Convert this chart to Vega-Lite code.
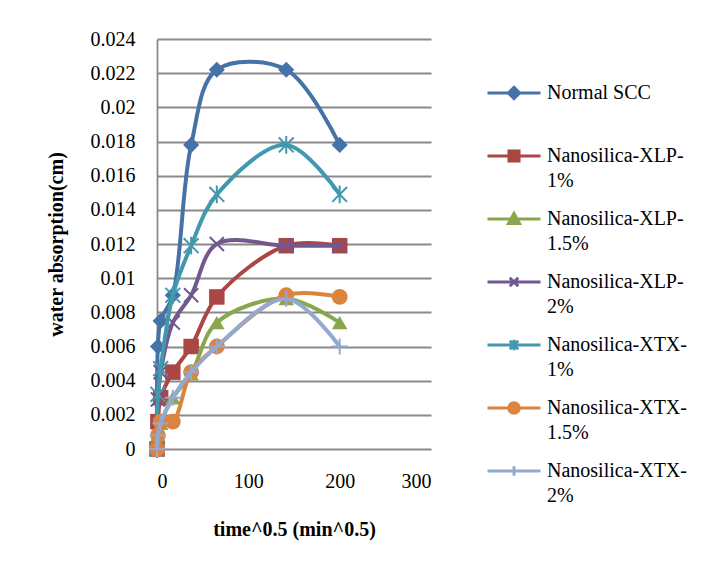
{
  "$schema": "https://vega.github.io/schema/vega-lite/v6.json",
  "autosize": {"type": "none"},
  "padding": {"left": 157, "top": 39, "right": 281, "bottom": 120},
  "width": 274,
  "height": 410,
  "background": "white",
  "config": {
    "view": {"stroke": null},
    "font": "Liberation Serif",
    "style": {"guide-label": {"lineHeight": 25, "font": "Liberation Serif"}},
    "legend": {"labelFont": "Liberation Serif", "labelFontSize": 20, "labelColor": "black"}
  },
  "data": {
    "values": [
      {"series": "Normal SCC", "x": 0, "y": 0},
      {"series": "Normal SCC", "x": 1, "y": 0.006},
      {"series": "Normal SCC", "x": 4, "y": 0.0075},
      {"series": "Normal SCC", "x": 17.3, "y": 0.009},
      {"series": "Normal SCC", "x": 37.4, "y": 0.0178},
      {"series": "Normal SCC", "x": 65.5, "y": 0.0222},
      {"series": "Normal SCC", "x": 141.5, "y": 0.0222},
      {"series": "Normal SCC", "x": 200, "y": 0.0178},
      {"series": "Nanosilica-XLP-1%", "x": 0, "y": 0},
      {"series": "Nanosilica-XLP-1%", "x": 1, "y": 0.0016},
      {"series": "Nanosilica-XLP-1%", "x": 4, "y": 0.003},
      {"series": "Nanosilica-XLP-1%", "x": 17.3, "y": 0.0045},
      {"series": "Nanosilica-XLP-1%", "x": 37.4, "y": 0.006},
      {"series": "Nanosilica-XLP-1%", "x": 65.5, "y": 0.0089},
      {"series": "Nanosilica-XLP-1%", "x": 141.5, "y": 0.0119},
      {"series": "Nanosilica-XLP-1%", "x": 200, "y": 0.0119},
      {"series": "Nanosilica-XLP-1.5%", "x": 0, "y": 0},
      {"series": "Nanosilica-XLP-1.5%", "x": 1, "y": 0.0008},
      {"series": "Nanosilica-XLP-1.5%", "x": 4, "y": 0.0015},
      {"series": "Nanosilica-XLP-1.5%", "x": 17.3, "y": 0.003},
      {"series": "Nanosilica-XLP-1.5%", "x": 37.4, "y": 0.0044},
      {"series": "Nanosilica-XLP-1.5%", "x": 65.5, "y": 0.0074},
      {"series": "Nanosilica-XLP-1.5%", "x": 141.5, "y": 0.0088},
      {"series": "Nanosilica-XLP-1.5%", "x": 200, "y": 0.0074},
      {"series": "Nanosilica-XLP-2%", "x": 0, "y": 0},
      {"series": "Nanosilica-XLP-2%", "x": 1, "y": 0.0029},
      {"series": "Nanosilica-XLP-2%", "x": 4, "y": 0.0045},
      {"series": "Nanosilica-XLP-2%", "x": 17.3, "y": 0.0074},
      {"series": "Nanosilica-XLP-2%", "x": 37.4, "y": 0.009},
      {"series": "Nanosilica-XLP-2%", "x": 65.5, "y": 0.012},
      {"series": "Nanosilica-XLP-2%", "x": 141.5, "y": 0.0119},
      {"series": "Nanosilica-XLP-2%", "x": 200, "y": 0.0119},
      {"series": "Nanosilica-XTX-1%", "x": 0, "y": 0},
      {"series": "Nanosilica-XTX-1%", "x": 1, "y": 0.0032},
      {"series": "Nanosilica-XTX-1%", "x": 4, "y": 0.0047},
      {"series": "Nanosilica-XTX-1%", "x": 17.3, "y": 0.009},
      {"series": "Nanosilica-XTX-1%", "x": 37.4, "y": 0.0119},
      {"series": "Nanosilica-XTX-1%", "x": 65.5, "y": 0.0149},
      {"series": "Nanosilica-XTX-1%", "x": 141.5, "y": 0.0178},
      {"series": "Nanosilica-XTX-1%", "x": 200, "y": 0.0149},
      {"series": "Nanosilica-XTX-1.5%", "x": 0, "y": 0},
      {"series": "Nanosilica-XTX-1.5%", "x": 1, "y": 0.0008},
      {"series": "Nanosilica-XTX-1.5%", "x": 4, "y": 0.0016},
      {"series": "Nanosilica-XTX-1.5%", "x": 17.3, "y": 0.0016},
      {"series": "Nanosilica-XTX-1.5%", "x": 37.4, "y": 0.0045},
      {"series": "Nanosilica-XTX-1.5%", "x": 65.5, "y": 0.006},
      {"series": "Nanosilica-XTX-1.5%", "x": 141.5, "y": 0.009},
      {"series": "Nanosilica-XTX-1.5%", "x": 200, "y": 0.0089},
      {"series": "Nanosilica-XTX-2%", "x": 0, "y": 0},
      {"series": "Nanosilica-XTX-2%", "x": 1, "y": 0.0008},
      {"series": "Nanosilica-XTX-2%", "x": 4, "y": 0.0015},
      {"series": "Nanosilica-XTX-2%", "x": 17.3, "y": 0.003},
      {"series": "Nanosilica-XTX-2%", "x": 37.4, "y": 0.0045},
      {"series": "Nanosilica-XTX-2%", "x": 65.5, "y": 0.006},
      {"series": "Nanosilica-XTX-2%", "x": 141.5, "y": 0.0088},
      {"series": "Nanosilica-XTX-2%", "x": 200, "y": 0.006}
    ]
  },
  "encoding": {
    "x": {
      "field": "x", "type": "quantitative",
      "scale": {"domain": [0, 300], "nice": false, "zero": true},
      "axis": {
        "title": "time^0.5 (min^0.5)",
        "values": [0, 100, 200, 300],
        "grid": false, "domain": false, "ticks": false,
        "labelPadding": 22, "labelFontSize": 20, "labelFont": "Liberation Serif", "labelColor": "black",
        "titleFont": "Liberation Serif", "titleFontSize": 20, "titleFontWeight": "bold", "titleColor": "black",
        "titlePadding": 28
      }
    },
    "y": {
      "field": "y", "type": "quantitative",
      "scale": {"domain": [0, 0.024], "nice": false},
      "axis": {
        "title": "water absorption(cm)",
        "values": [0, 0.002, 0.004, 0.006, 0.008, 0.01, 0.012, 0.014, 0.016, 0.018, 0.02, 0.022, 0.024],
        "format": "~g",
        "grid": true, "gridColor": "#898989", "gridWidth": 1.8,
        "domain": true, "domainColor": "#898989", "domainWidth": 1.8,
        "ticks": false,
        "labelPadding": 22, "labelFontSize": 20, "labelFont": "Liberation Serif", "labelColor": "black",
        "titleFont": "Liberation Serif", "titleFontSize": 20, "titleFontWeight": "bold", "titleColor": "black",
        "titlePadding": 24
      }
    }
  },
  "layer": [
    {
      "transform": [{"filter": "datum.series === 'Normal SCC'"}],
      "mark": {"type": "line", "interpolate": "catmull-rom", "strokeWidth": 4, "color": "#4572A7",
        "point": {"shape": "diamond", "filled": true, "size": 260, "opacity": 1, "color": "#4572A7"}}
    },
    {
      "transform": [{"filter": "datum.series === 'Nanosilica-XLP-1%'"}],
      "mark": {"type": "line", "interpolate": "catmull-rom", "strokeWidth": 4, "color": "#AA4643",
        "point": {"shape": "square", "filled": true, "size": 240, "opacity": 1, "color": "#AA4643"}}
    },
    {
      "transform": [{"filter": "datum.series === 'Nanosilica-XLP-1.5%'"}],
      "mark": {"type": "line", "interpolate": "catmull-rom", "strokeWidth": 4, "color": "#89A54E",
        "point": {"shape": "triangle-up", "filled": true, "size": 240, "opacity": 1, "color": "#89A54E"}}
    },
    {
      "transform": [{"filter": "datum.series === 'Nanosilica-XLP-2%'"}],
      "mark": {"type": "line", "interpolate": "catmull-rom", "strokeWidth": 4, "color": "#71588F",
        "point": {"shape": "M-1,-1L1,1M-1,1L1,-1", "filled": false, "size": 200, "strokeWidth": 2, "opacity": 1, "color": "#71588F"}}
    },
    {
      "transform": [{"filter": "datum.series === 'Nanosilica-XTX-1%'"}],
      "mark": {"type": "line", "interpolate": "catmull-rom", "strokeWidth": 4, "color": "#4198AF",
        "point": {"shape": "M-1,-1L1,1M-1,1L1,-1M0,-1.2L0,1.2", "filled": false, "size": 220, "strokeWidth": 2, "opacity": 1, "color": "#4198AF"}}
    },
    {
      "transform": [{"filter": "datum.series === 'Nanosilica-XTX-1.5%'"}],
      "mark": {"type": "line", "interpolate": "catmull-rom", "strokeWidth": 4, "color": "#DB843D",
        "point": {"shape": "circle", "filled": true, "size": 250, "opacity": 1, "color": "#DB843D"}}
    },
    {
      "transform": [{"filter": "datum.series === 'Nanosilica-XTX-2%'"}],
      "mark": {"type": "line", "interpolate": "catmull-rom", "strokeWidth": 4, "color": "#93A9CF",
        "point": {"shape": "M-1,0L1,0M0,-1L0,1", "filled": false, "size": 260, "strokeWidth": 2, "opacity": 1, "color": "#93A9CF"}}
    },
    {
      "transform": [{"filter": "datum.x < 0"}],
      "mark": {"type": "point", "filled": true, "opacity": 1},
      "encoding": {
        "fill": {
          "field": "series", "type": "nominal",
          "scale": {
            "domain": ["Normal SCC", "Nanosilica-XLP-1%", "Nanosilica-XLP-1.5%", "Nanosilica-XLP-2%", "Nanosilica-XTX-1%", "Nanosilica-XTX-1.5%", "Nanosilica-XTX-2%"],
            "range": ["#4572A7", "#AA4643", "#89A54E", "#71588F", "#4198AF", "#DB843D", "#93A9CF"]
          },
          "legend": {
            "title": null, "orient": "none", "legendX": 329, "legendY": 26,
            "padding": 0, "symbolSize": 2809, "symbolStrokeWidth": 3,
            "labelFont": "Liberation Serif", "labelFontSize": 20, "labelColor": "black", "labelOffset": 5, "labelLimit": 300,
            "rowPadding": 0,
            "labelExpr": "datum.label === 'Normal SCC' ? ['Normal SCC', ''] : [substring(datum.label, 0, 15), substring(datum.label, 15)]"
          }
        },
        "stroke": {
          "field": "series", "type": "nominal",
          "scale": {
            "domain": ["Normal SCC", "Nanosilica-XLP-1%", "Nanosilica-XLP-1.5%", "Nanosilica-XLP-2%", "Nanosilica-XTX-1%", "Nanosilica-XTX-1.5%", "Nanosilica-XTX-2%"],
            "range": ["#4572A7", "#AA4643", "#89A54E", "#71588F", "#4198AF", "#DB843D", "#93A9CF"]
          },
          "legend": {
            "title": null, "orient": "none", "legendX": 329, "legendY": 26,
            "padding": 0, "symbolSize": 2809, "symbolStrokeWidth": 3,
            "labelFont": "Liberation Serif", "labelFontSize": 20, "labelColor": "black", "labelOffset": 5, "labelLimit": 300,
            "rowPadding": 0,
            "labelExpr": "datum.label === 'Normal SCC' ? ['Normal SCC', ''] : [substring(datum.label, 0, 15), substring(datum.label, 15)]"
          }
        },
        "shape": {
          "field": "series", "type": "nominal",
          "scale": {
            "domain": ["Normal SCC", "Nanosilica-XLP-1%", "Nanosilica-XLP-1.5%", "Nanosilica-XLP-2%", "Nanosilica-XTX-1%", "Nanosilica-XTX-1.5%", "Nanosilica-XTX-2%"],
            "range": [
              "M-1,0H1M0,-0.21L0.21,0L0,0.21L-0.21,0Z",
              "M-1,0H1M-0.19,-0.19H0.19V0.19H-0.19Z",
              "M-1,0H1M0,-0.21L0.21,0.17L-0.21,0.17Z",
              "M-1,0H1M-0.16,-0.16L0.16,0.16M-0.16,0.16L0.16,-0.16",
              "M-1,0H1M-0.16,-0.16L0.16,0.16M-0.16,0.16L0.16,-0.16M0,-0.2V0.2",
              "M-1,0H1M0.2,0A0.2,0.2,0,1,1,-0.2,0A0.2,0.2,0,1,1,0.2,0Z",
              "M-1,0H1M0,-0.18V0.18"
            ]
          },
          "legend": {
            "title": null, "orient": "none", "legendX": 329, "legendY": 26,
            "padding": 0, "symbolSize": 2809, "symbolStrokeWidth": 3,
            "labelFont": "Liberation Serif", "labelFontSize": 20, "labelColor": "black", "labelOffset": 5, "labelLimit": 300,
            "rowPadding": 0,
            "labelExpr": "datum.label === 'Normal SCC' ? ['Normal SCC', ''] : [substring(datum.label, 0, 15), substring(datum.label, 15)]"
          }
        }
      }
    }
  ]
}
